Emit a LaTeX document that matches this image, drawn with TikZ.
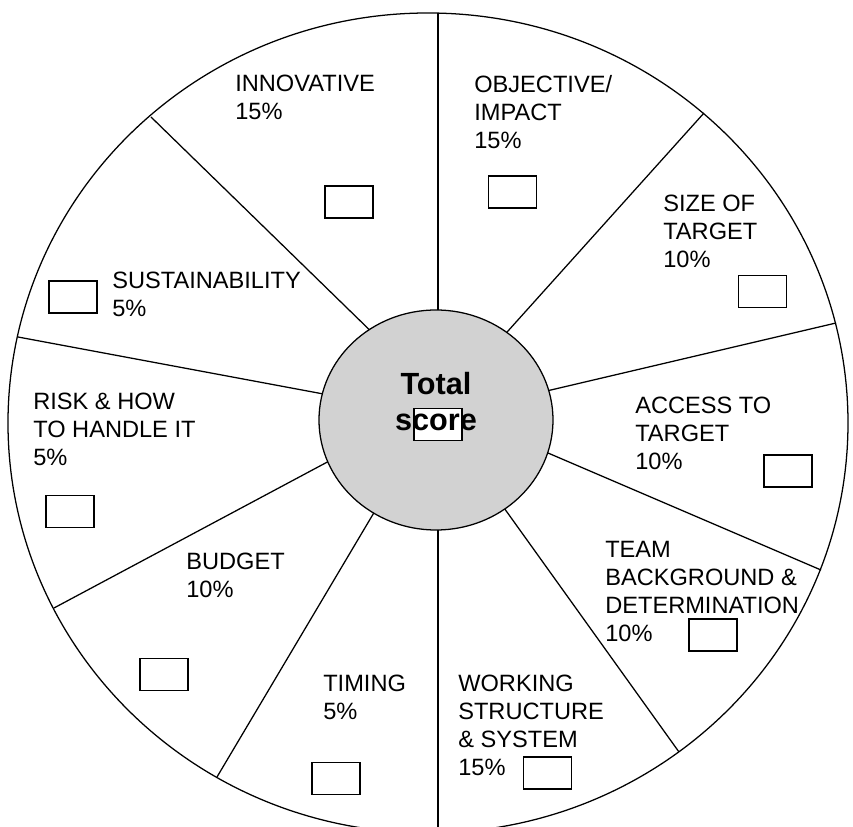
\documentclass[tikz,border=0pt]{standalone}
\usepackage{fontspec}
\setmainfont{Liberation Sans}
\usetikzlibrary{shapes.geometric}

\begin{document}
\begin{tikzpicture}
		[crit/.style={anchor=north west,inner sep=0pt,align=left,font=\fontsize{16.8}{19.9}\selectfont},
		 tickbox/.style={draw,fill=white,line width=0.9pt,minimum width=1.2cm,minimum height=0.8cm,inner sep=0pt},
		 spoke/.style={line width=0.9pt}]
		\useasboundingbox (-10.7,-10.1) rectangle (10.625,10.575);
		\clip (-10.7,-10.1) rectangle (10.625,10.575);

		% draw the wheel and its spokes
		\draw [line width=0.9pt] (0,0) ellipse [x radius=10.5, y radius=10.25];
		\draw [spoke] (0.25,10.25) -- (0.25,0.075);
		\draw [spoke] (6.9,7.75) -- (0,0.075);
		\draw [spoke] (10.2,2.5) -- (0.2,0.15);
		\draw [spoke] (9.825,-3.675) -- (0.2,0.45);
		\draw [spoke] (6.275,-8.225) -- (0.325,0.075);
		\draw [spoke] (0.25,-10.5) -- (0.25,0.075);
		\draw [spoke] (-5.275,-8.85) -- (0.025,0.075);
		\draw [spoke] (-9.35,-4.625) -- (0.2,0.475);
		\draw [spoke] (-10.25,2.15) -- (0.2,0.2);
		\draw [spoke] (-6.925,7.65) -- (0.85,0.075);

		% draw the centre
		\node [ellipse,draw,fill=gray!35,line width=0.9pt,minimum width=5.85cm,minimum height=5.5cm] (centre) at (0.2,0.075) {};
		\node [tickbox] (totalbox) at (0.25,-0.0375) {};
		\node [anchor=north,inner sep=0pt,align=center,font=\bfseries\fontsize{21.8}{25.6}\selectfont] (total) at (0.2,1.275) {Total\\score};

		% draw the criteria with their boxes
		\node [crit] (innov) at (-4.825,8.7) {INNOVATIVE\\15\%};
		\node [tickbox] (innovbox) at (-1.975,5.525) {};
		\node [crit] (objective) at (1.15,8.7) {OBJECTIVE/\\IMPACT\\15\%};
		\node [tickbox] (objectivebox) at (2.1125,5.775) {};
		\node [crit] (size) at (5.875,5.7) {SIZE OF\\TARGET\\10\%};
		\node [tickbox] (sizebox) at (8.3625,3.2875) {};
		\node [crit] (access) at (5.175,0.65) {ACCESS TO\\TARGET\\10\%};
		\node [tickbox] (accessbox) at (9.0,-1.2) {};
		\node [crit] (team) at (4.425,-2.95) {TEAM\\BACKGROUND \&\\DETERMINATION\\10\%};
		\node [tickbox] (teambox) at (7.125,-5.3) {};
		\node [crit] (working) at (0.75,-6.3) {WORKING\\STRUCTURE\\\& SYSTEM\\15\%};
		\node [tickbox] (workingbox) at (2.9875,-8.75) {};
		\node [crit] (timing) at (-2.625,-6.3) {TIMING\\5\%};
		\node [tickbox] (timingbox) at (-2.3,-8.8875) {};
		\node [crit] (budget) at (-6.05,-3.25) {BUDGET\\10\%};
		\node [tickbox] (budgetbox) at (-6.6,-6.2875) {};
		\node [crit] (risk) at (-9.875,0.75) {RISK \& HOW\\TO HANDLE IT\\5\%};
		\node [tickbox] (riskbox) at (-8.95,-2.2125) {};
		\node [crit] (sustain) at (-7.9,3.775) {SUSTAINABILITY\\5\%};
		\node [tickbox] (sustainbox) at (-8.875,3.15) {};
	\end{tikzpicture}
\end{document}
